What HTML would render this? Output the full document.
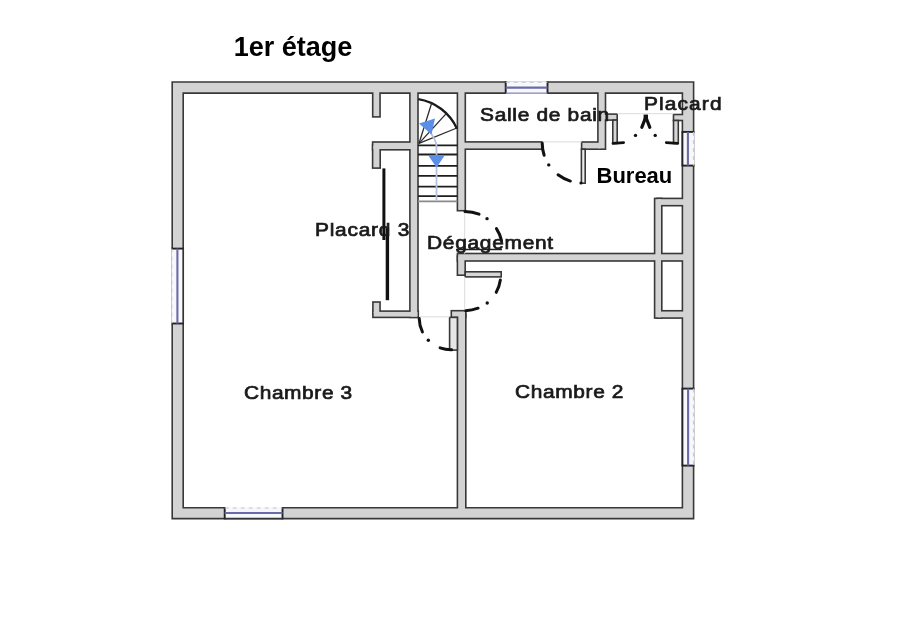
<!DOCTYPE html>
<html><head><meta charset="utf-8"><style>
html,body{margin:0;padding:0;background:#fff;width:897px;height:622px;overflow:hidden}
#wrap{position:absolute;left:0;top:0;width:897px;height:622px;filter:blur(0.35px)}
svg{position:absolute;left:0;top:0}
.t{position:absolute;font-family:"Liberation Sans",sans-serif;white-space:nowrap;line-height:1}
.title{font-size:27px;font-weight:bold;color:#000}
.b{font-size:22px;font-weight:bold;color:#000}
.m{font-size:18px;-webkit-text-stroke:0.7px #1a1a1a;color:#1a1a1a;transform:scaleX(1.16);transform-origin:0 0}
</style></head><body>
<div id="wrap">
<svg width="897" height="622" viewBox="0 0 897 622">
<g fill="#383838">
<path fill-rule="evenodd" d="M171.40,81.20H694.40V519.40H171.40Z M184.00,93.90V507.00H681.60V93.90Z"/>
<rect x="371.90" y="88.20" width="8.95" height="29.50"/>
<rect x="409.10" y="88.20" width="9.70" height="230.00"/>
<rect x="371.80" y="141.20" width="42.00" height="9.40"/>
<rect x="371.80" y="144.20" width="9.20" height="24.70"/>
<rect x="372.10" y="310.30" width="47.00" height="7.90"/>
<rect x="372.10" y="301.20" width="8.75" height="13.60"/>
<rect x="456.60" y="88.20" width="9.50" height="123.30"/>
<rect x="461.20" y="141.10" width="81.90" height="8.90"/>
<rect x="597.10" y="88.20" width="9.20" height="61.80"/>
<rect x="580.80" y="141.20" width="21.00" height="8.80"/>
<rect x="601.20" y="113.30" width="16.80" height="7.60"/>
<rect x="672.70" y="113.70" width="14.10" height="7.60"/>
<rect x="653.80" y="197.60" width="8.80" height="121.26"/>
<rect x="656.20" y="197.60" width="30.60" height="8.90"/>
<rect x="656.20" y="309.95" width="30.60" height="8.91"/>
<rect x="456.60" y="252.70" width="230.20" height="9.10"/>
<rect x="456.60" y="255.20" width="9.40" height="20.80"/>
<rect x="456.60" y="313.20" width="10.00" height="199.60"/>
<rect x="450.50" y="309.90" width="16.10" height="8.30"/>
</g>
<g fill="#d3d3d3">
<path fill-rule="evenodd" d="M173.00,82.80H692.80V517.80H173.00Z M182.40,92.30V508.60H683.20V92.30Z"/>
<rect x="373.50" y="89.80" width="5.75" height="26.30"/>
<rect x="410.70" y="89.80" width="6.50" height="226.80"/>
<rect x="373.40" y="142.80" width="38.80" height="6.20"/>
<rect x="373.40" y="145.80" width="6.00" height="21.50"/>
<rect x="373.70" y="311.90" width="43.80" height="4.70"/>
<rect x="373.70" y="302.80" width="5.55" height="10.40"/>
<rect x="458.20" y="89.80" width="6.30" height="120.10"/>
<rect x="462.80" y="142.70" width="78.70" height="5.70"/>
<rect x="598.70" y="89.80" width="6.00" height="58.60"/>
<rect x="582.40" y="142.80" width="17.80" height="5.60"/>
<rect x="602.80" y="114.90" width="13.60" height="4.40"/>
<rect x="674.30" y="115.30" width="10.90" height="4.40"/>
<rect x="655.40" y="199.20" width="5.60" height="118.06"/>
<rect x="657.80" y="199.20" width="27.40" height="5.70"/>
<rect x="657.80" y="311.55" width="27.40" height="5.71"/>
<rect x="458.20" y="254.30" width="227.00" height="5.90"/>
<rect x="458.20" y="256.80" width="6.20" height="17.60"/>
<rect x="458.20" y="314.80" width="6.80" height="196.40"/>
<rect x="452.10" y="311.50" width="12.90" height="5.10"/>
</g>
<rect x="581.40" y="149.20" width="3.80" height="34.00" fill="#ececec" stroke="#383838" stroke-width="1.6"/>
<rect x="612.80" y="120.10" width="4.40" height="23.30" fill="#d6d6d6" stroke="#383838" stroke-width="1.6"/>
<rect x="673.50" y="120.50" width="4.80" height="22.90" fill="#d6d6d6" stroke="#383838" stroke-width="1.6"/>
<rect x="465.20" y="271.80" width="36.00" height="5.10" fill="#d6d6d6" stroke="#383838" stroke-width="1.6"/>
<rect x="449.60" y="317.40" width="7.80" height="32.70" fill="#e6e6e6" stroke="#383838" stroke-width="1.6"/>
<rect x="505.7" y="81.2" width="41.80000000000001" height="12.699999999999994" fill="#f8f8fc"/>
<line x1="505.7" y1="81.2" x2="505.7" y2="93.89999999999999" stroke="#222" stroke-width="1.9"/>
<line x1="547.5" y1="81.2" x2="547.5" y2="93.89999999999999" stroke="#222" stroke-width="1.9"/>
<line x1="505.7" y1="87.6" x2="547.5" y2="87.6" stroke="#6a6aa6" stroke-width="2.1"/>
<line x1="505.7" y1="82.3" x2="547.5" y2="82.3" stroke="#c4c4d4" stroke-width="1" stroke-dasharray="4 4"/>
<rect x="224.7" y="507.0" width="57.80000000000001" height="12.400000000000011" fill="#f8f8fc"/>
<line x1="224.7" y1="507.0" x2="224.7" y2="519.4" stroke="#222" stroke-width="1.9"/>
<line x1="282.5" y1="507.0" x2="282.5" y2="519.4" stroke="#222" stroke-width="1.9"/>
<line x1="224.7" y1="513" x2="282.5" y2="513" stroke="#6a6aa6" stroke-width="2.1"/>
<line x1="224.7" y1="508" x2="282.5" y2="508" stroke="#c4c4d4" stroke-width="1" stroke-dasharray="4 4"/>
<rect x="171.39999999999998" y="248.6" width="12.6" height="74.9" fill="#f8f8fc"/>
<line x1="171.39999999999998" y1="248.6" x2="184.0" y2="248.6" stroke="#222" stroke-width="1.9"/>
<line x1="171.39999999999998" y1="323.5" x2="184.0" y2="323.5" stroke="#222" stroke-width="1.9"/>
<line x1="177.4" y1="248.6" x2="177.4" y2="323.5" stroke="#6a6aa6" stroke-width="2.1"/>
<line x1="171.8" y1="248.6" x2="171.8" y2="323.5" stroke="#c4c4d4" stroke-width="1" stroke-dasharray="4 4"/>
<rect x="681.6" y="131.9" width="12.800000000000045" height="33.69999999999999" fill="#f8f8fc"/>
<line x1="681.6" y1="131.9" x2="694.4" y2="131.9" stroke="#222" stroke-width="1.9"/>
<line x1="681.6" y1="165.6" x2="694.4" y2="165.6" stroke="#222" stroke-width="1.9"/>
<line x1="687.9" y1="131.9" x2="687.9" y2="165.6" stroke="#6a6aa6" stroke-width="2.1"/>
<line x1="693.4" y1="131.9" x2="693.4" y2="165.6" stroke="#c4c4d4" stroke-width="1" stroke-dasharray="4 4"/>
<rect x="681.6" y="388.6" width="12.800000000000045" height="77.0" fill="#f8f8fc"/>
<line x1="681.6" y1="388.6" x2="694.4" y2="388.6" stroke="#222" stroke-width="1.9"/>
<line x1="681.6" y1="465.6" x2="694.4" y2="465.6" stroke="#222" stroke-width="1.9"/>
<line x1="688.1" y1="388.6" x2="688.1" y2="465.6" stroke="#6a6aa6" stroke-width="2.1"/>
<line x1="693.4" y1="388.6" x2="693.4" y2="465.6" stroke="#c4c4d4" stroke-width="1" stroke-dasharray="4 4"/>
<line x1="682.4" y1="131.9" x2="682.4" y2="165.6" stroke="#222" stroke-width="1.9"/>
<line x1="682.4" y1="388.6" x2="682.4" y2="465.6" stroke="#222" stroke-width="1.9"/>
<line x1="183.2" y1="248.6" x2="183.2" y2="323.5" stroke="#333" stroke-width="1.7"/>
<line x1="505.7" y1="93.1" x2="547.5" y2="93.1" stroke="#8888bb" stroke-width="1.2"/>
<line x1="224.7" y1="518.6" x2="282.5" y2="518.6" stroke="#333" stroke-width="1.7"/>
<line x1="617.2" y1="113.6" x2="673.5" y2="113.6" stroke="#e2e2e2" stroke-width="1.2"/>
<line x1="542.3" y1="141.8" x2="581.6" y2="141.8" stroke="#e2e2e2" stroke-width="1.2"/>
<line x1="464.6" y1="210.7" x2="464.6" y2="253.5" stroke="#e2e2e2" stroke-width="1.2"/>
<line x1="464.6" y1="276.9" x2="464.6" y2="310.7" stroke="#e2e2e2" stroke-width="1.2"/>
<line x1="419" y1="316.8" x2="449.6" y2="316.8" stroke="#e2e2e2" stroke-width="1.2"/>
<line x1="418" y1="145.4" x2="457.4" y2="145.4" stroke="#1e1e1e" stroke-width="1.8"/>
<line x1="418" y1="154.5" x2="457.4" y2="154.5" stroke="#1e1e1e" stroke-width="1.8"/>
<line x1="418" y1="165.8" x2="457.4" y2="165.8" stroke="#1e1e1e" stroke-width="1.8"/>
<line x1="418" y1="175.9" x2="457.4" y2="175.9" stroke="#1e1e1e" stroke-width="1.8"/>
<line x1="418" y1="186.6" x2="457.4" y2="186.6" stroke="#1e1e1e" stroke-width="1.8"/>
<line x1="418" y1="196.1" x2="457.4" y2="196.1" stroke="#1e1e1e" stroke-width="1.8"/>
<line x1="418" y1="201.4" x2="457.4" y2="201.4" stroke="#8a8a8a" stroke-width="1.9"/>
<path d="M418.2,99.1 A51.6,51.6 0 0 1 457.0,128.7" fill="none" stroke="#1a1a1a" stroke-width="2.3"/>
<line x1="419" y1="143.4" x2="431.7" y2="103" stroke="#2a2a2a" stroke-width="1.3"/>
<line x1="419" y1="143.4" x2="446.2" y2="113.6" stroke="#2a2a2a" stroke-width="1.3"/>
<line x1="419" y1="143.4" x2="456.8" y2="128" stroke="#2a2a2a" stroke-width="1.3"/>
<path d="M436.5,200 L436.5,146 Q436,140 430,132" fill="none" stroke="#b4c2de" stroke-width="1.8"/>
<polygon points="419,123.5 435,118.5 431.5,134.5" fill="#5b8ee6"/>
<polygon points="428,155 445,155 436.5,167.5" fill="#5b8ee6"/>
<path d="M465.00,211.50 A37.5,37.5 0 0 1 479.05,214.23" fill="none" stroke="#111" stroke-width="3" stroke-linecap="round"/>
<circle cx="487.04" cy="218.66" r="1.7" fill="#111"/>
<path d="M496.45,228.58 A37.5,37.5 0 0 1 501.54,240.56" fill="none" stroke="#111" stroke-width="3" stroke-linecap="round"/>
<line x1="456" y1="249.5" x2="502" y2="249.5" stroke="#222" stroke-width="1.5"/>
<path d="M500.35,279.97 A35.7,35.7 0 0 1 496.22,292.31" fill="none" stroke="#111" stroke-width="3" stroke-linecap="round"/>
<circle cx="487.22" cy="302.94" r="1.7" fill="#111"/>
<path d="M478.08,308.22 A35.7,35.7 0 0 1 465.62,310.69" fill="none" stroke="#111" stroke-width="3" stroke-linecap="round"/>
<path d="M419.20,318.55 A31.8,31.8 0 0 0 422.42,331.94" fill="none" stroke="#111" stroke-width="3" stroke-linecap="round"/>
<circle cx="428.32" cy="340.29" r="1.7" fill="#111"/>
<path d="M440.12,347.88 A31.8,31.8 0 0 0 451.55,349.80" fill="none" stroke="#111" stroke-width="3" stroke-linecap="round"/>
<path d="M542.20,143.35 A39.8,39.8 0 0 0 544.15,155.30" fill="none" stroke="#111" stroke-width="3" stroke-linecap="round"/>
<circle cx="548.77" cy="164.91" r="1.7" fill="#111"/>
<path d="M558.05,174.79 A39.8,39.8 0 0 0 570.36,181.06" fill="none" stroke="#111" stroke-width="3" stroke-linecap="round"/>
<circle cx="581" cy="183" r="1.6" fill="#111"/>
<path d="M641.8,127.3 L645.8,117 L649.8,127.3" fill="none" stroke="#111" stroke-width="3.2" stroke-linecap="round" stroke-linejoin="round"/>
<rect x="643.6" y="114.6" width="4.4" height="5" fill="#111"/>
<circle cx="635.5" cy="135.4" r="1.7" fill="#111"/>
<circle cx="655.2" cy="135.4" r="1.7" fill="#111"/>
<path d="M613,143.4 L623.6,142.6" fill="none" stroke="#111" stroke-width="2.8" stroke-linecap="round"/>
<path d="M677.5,143.4 L666.3,142.6" fill="none" stroke="#111" stroke-width="2.8" stroke-linecap="round"/>
<line x1="383.9" y1="168.4" x2="383.9" y2="240" stroke="#111" stroke-width="3"/>
<line x1="387.4" y1="228" x2="387.4" y2="300.2" stroke="#111" stroke-width="3.4"/>
</svg>

<div class="t title" style="left:233.8px;top:33.7px">1er étage</div>
<div class="t b" style="left:596.5px;top:165px">Bureau</div>
<div class="t m" style="left:479.8px;top:105.7px;letter-spacing:0.61px">Salle de bain</div>
<div class="t m" style="left:643.85px;top:95.35px;letter-spacing:0.97px">Placard</div>
<div class="t m" style="left:314.95px;top:220.75px;letter-spacing:0.67px">Placard 3</div>
<div class="t m" style="left:426.65px;top:234.45px;letter-spacing:0.63px">Dégagement</div>
<div class="t m" style="left:243.65px;top:384.3px;letter-spacing:0.52px">Chambre 3</div>
<div class="t m" style="left:514.75px;top:382.9px;letter-spacing:0.56px">Chambre 2</div>

</div>
</body></html>
